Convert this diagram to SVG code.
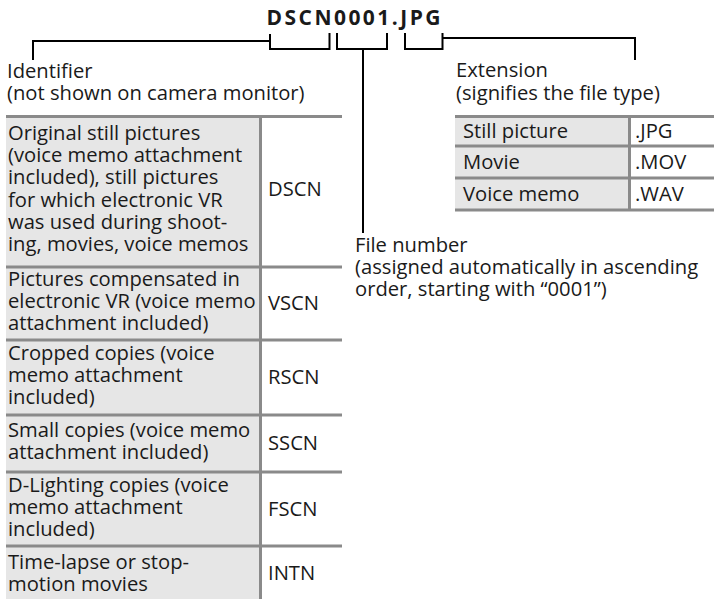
<svg xmlns="http://www.w3.org/2000/svg" width="714" height="599" viewBox="0 0 714 599">
<style>
text{font-family:"Open Sans","Noto Sans","DejaVu Sans",sans-serif;font-size:20.2px;fill:#1a1a1a}
.title{font-weight:bold;font-size:21px;letter-spacing:3px}
.lbl{fill:#e6e6e6}
.rule{stroke:#8a8a8a;stroke-width:3;fill:none}
.br{stroke:#000;stroke-width:2;fill:none}
</style>
<rect width="714" height="599" fill="#fff"/>
<g id="title"><text class="title" x="266.5" y="25" textLength="177" lengthAdjust="spacing">DSCN0001.JPG</text></g>
<g id="connectors">
<path class="br" d="M33,60 V41 H270"/>
<path class="br" d="M270,34 V49 H329.5 V33"/>
<path class="br" d="M337,33 V49 H387 V33"/>
<path class="br" d="M363,49 V233"/>
<path class="br" d="M405,33 V49 H442.5 V33"/>
<path class="br" d="M442.5,38 H635 V60"/>
</g>
<g id="identifier-label">
<text x="7" y="78">Identifier</text>
<text x="7" y="100">(not shown on camera monitor)</text>
</g>
<g id="extension-label">
<text x="456" y="77">Extension</text>
<text x="456" y="100">(signifies the file type)</text>
</g>
<g id="filenumber-label">
<text x="355" y="252">File number</text>
<text x="355" y="274">(assigned automatically in ascending</text>
<text x="355" y="296">order, starting with “0001”)</text>
</g>
<g id="identifier-table">
<rect class="lbl" x="6" y="116" width="254" height="483"/>
<path class="rule" d="M6,116.5 H342 M6,267 H342 M6,340 H342 M6,415 H342 M6,472 H342 M6,546 H342 M260.5,116 V599"/>
<g id="row-dscn">
<text x="8" y="140">Original still pictures</text>
<text x="8" y="162">(voice memo attachment</text>
<text x="8" y="184">included), still pictures</text>
<text x="8" y="206.5">for which electronic VR</text>
<text x="8" y="228.5">was used during shoot-</text>
<text x="8" y="250.5">ing, movies, voice memos</text>
<text x="268" y="196">DSCN</text>
</g>
<g id="row-vscn">
<text x="8" y="285.5">Pictures compensated in</text>
<text x="8" y="307.5">electronic VR (voice memo</text>
<text x="8" y="329.5">attachment included)</text>
<text x="268" y="310">VSCN</text>
</g>
<g id="row-rscn">
<text x="8" y="360">Cropped copies (voice</text>
<text x="8" y="382">memo attachment</text>
<text x="8" y="404">included)</text>
<text x="268" y="384">RSCN</text>
</g>
<g id="row-sscn">
<text x="8" y="437">Small copies (voice memo</text>
<text x="8" y="459">attachment included)</text>
<text x="268" y="450">SSCN</text>
</g>
<g id="row-fscn">
<text x="8" y="492">D-Lighting copies (voice</text>
<text x="8" y="514">memo attachment</text>
<text x="8" y="536">included)</text>
<text x="268" y="516">FSCN</text>
</g>
<g id="row-intn">
<text x="8" y="569">Time-lapse or stop-</text>
<text x="8" y="591">motion movies</text>
<text x="268" y="580">INTN</text>
</g>
</g>
<g id="extension-table">
<rect class="lbl" x="455" y="116" width="174" height="94"/>
<path class="rule" d="M455,116.5 H714 M455,146 H714 M455,178 H714 M455,210 H714 M629.5,116 V210"/>
<g id="row-jpg"><text x="463" y="138">Still picture</text><text x="635" y="138">.JPG</text></g>
<g id="row-mov"><text x="463" y="169">Movie</text><text x="635" y="169">.MOV</text></g>
<g id="row-wav"><text x="463" y="201">Voice memo</text><text x="635" y="201">.WAV</text></g>
</g>
</svg>
